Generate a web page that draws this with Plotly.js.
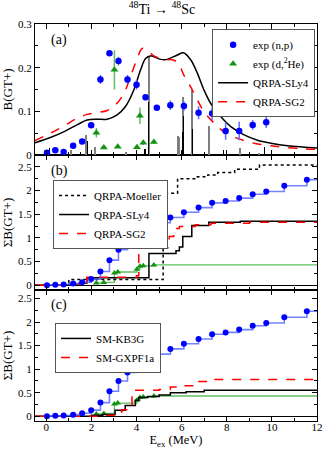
<!DOCTYPE html>
<html>
<head>
<meta charset="utf-8">
<script src="https://cdn.plot.ly/plotly-3.0.1.min.js"></script>
<style>html,body{margin:0;padding:0;background:#fff;}#chart{width:324px;height:449px;}</style>
</head>
<body>
<div id="chart"></div>
<script>
// ---------- DATA ----------
// (n,p) experiment: bin energies (MeV), B(GT+) per bin, errors, cumulative sum
const npE   = [0.03, 0.4, 0.77, 1.19, 1.59, 1.99, 2.4, 2.8, 3.2, 3.6, 4.0, 4.4, 4.9, 5.5, 6.1, 6.75, 7.35, 7.95, 8.55, 9.15, 9.75, 10.55, 11.55];
const npB   = [0.005, 0.011, 0.007, 0.021, 0.031, 0.068, 0.173, 0.233, 0.215, 0.173, 0.161, 0.132, 0.108, 0.114, 0.112, 0.097, 0.095, 0.055, 0.055, 0.069, 0.075, 0.124, 0.136];
const npErr = [0.003, 0.003, 0.003, 0.004, 0.004, 0.004, 0.010, 0.004, 0.010, 0.010, 0.011, 0.007, 0.005, 0.011, 0.011, 0.015, 0.015, 0.020, 0.021, 0.011, 0.013, 0.017, 0.025];
const npCum = [0.0, 0.01, 0.015, 0.035, 0.065, 0.13, 0.29, 0.53, 0.75, 0.93, 1.08, 1.21, 1.32, 1.43, 1.54, 1.64, 1.74, 1.78, 1.84, 1.92, 1.98, 2.10, 2.23];
// (d,2He) experiment
const dhE   = [2.22, 2.55, 3.02, 3.17, 4.02, 4.15, 4.3, 4.77];
const dhB   = [0.051, 0.017, 0.195, 0.019, 0.018, 0.090, 0.028, 0.030];
const dhErr = [0.011, 0.003, 0.045, 0.003, 0.003, 0.019, 0.005, 0.005];
const dhCum = [0.05, 0.06, 0.26, 0.28, 0.34, 0.40, 0.41, 0.43];
const xEnd = 12;
// QRPA folded strength (panel a)
const sly4E = [-0.5, 0.18, 0.77, 1.36, 1.81, 2.25, 2.7, 3.14, 3.51, 3.88, 4.18, 4.4, 4.62, 5.07, 5.36, 5.81, 6.08, 6.4, 6.7, 6.99, 7.29, 7.73, 8.18, 8.77, 9.36, 9.96, 10.7, 11.44, 12.0];
const sly4B = [0.028, 0.040, 0.053, 0.069, 0.080, 0.082, 0.082, 0.092, 0.111, 0.149, 0.195, 0.221, 0.227, 0.219, 0.219, 0.229, 0.234, 0.218, 0.187, 0.149, 0.118, 0.088, 0.065, 0.046, 0.034, 0.027, 0.021, 0.018, 0.016];
const sg2E  = [-0.5, 0.18, 0.77, 1.36, 1.81, 2.25, 2.7, 3.07, 3.44, 3.73, 4.03, 4.25, 4.47, 4.77, 5.21, 5.66, 5.9, 6.1, 6.4, 6.7, 6.99, 7.44, 7.88, 8.48, 9.21, 9.96, 10.7, 11.44, 12.0];
const sg2B  = [0.033, 0.050, 0.066, 0.084, 0.093, 0.097, 0.102, 0.115, 0.141, 0.179, 0.221, 0.244, 0.240, 0.227, 0.219, 0.217, 0.205, 0.183, 0.156, 0.126, 0.099, 0.073, 0.053, 0.038, 0.027, 0.021, 0.017, 0.014, 0.013];
// discrete QRPA states (sticks)
const blackStickE = [0.15, 1.51, 1.83, 4.37, 4.52, 6.03, 6.09, 6.48, 7.85, 9.66];
const blackStickB = [0.015, 0.008, 0.031, 0.014, 0.122, 0.053, 0.090, 0.059, 0.011, 0.018];
const grayStickE  = [0.77, 1.11, 1.76, 2.18, 3.54, 4.57, 5.84, 5.9, 6.06, 6.45, 7.2, 8.6, 9.44];
const grayStickB  = [0.011, 0.011, 0.046, 0.018, 0.008, 0.225, 0.043, 0.041, 0.133, 0.148, 0.066, 0.015, 0.005];
// cumulative QRPA (panel b)
const moeE = [-0.5, 1.0, 5.18, 5.82, 6.7, 7.16, 7.6, 8.35, 9.45, 12];
const moeS = [0, 0.12, 1.94, 2.25, 2.29, 2.33, 2.38, 2.45, 2.54, 2.54];
const slyCE = [-0.5, 1.0, 1.45, 1.8, 4.55, 5.75, 5.9, 6.05, 6.45, 7.2, 8.6, 12];
const slyCS = [0, 0.02, 0.05, 0.16, 0.67, 0.73, 0.81, 1.03, 1.26, 1.33, 1.35, 1.36];
const sg2CE = [-0.5, 1.0, 1.45, 1.8, 4.0, 4.1, 5.45, 5.65, 5.9, 6.6, 7.3, 9.0, 12];
const sg2CS = [0, 0.02, 0.05, 0.17, 0.2, 0.79, 1.03, 1.2, 1.24, 1.28, 1.31, 1.33, 1.34];
// cumulative shell model (panel c)
const kbE = [-0.5, 2.0, 2.5, 3.05, 3.5, 3.95, 4.1, 4.5, 5.0, 5.5, 6.2, 7.0, 12];
const kbS = [0, 0.02, 0.04, 0.13, 0.23, 0.34, 0.40, 0.42, 0.45, 0.50, 0.52, 0.55, 0.55];
const gxE = [-0.5, 2.5, 3.0, 3.35, 3.8, 5.0, 5.5, 6.1, 6.6, 7.3, 12];
const gxS = [0, 0.02, 0.09, 0.14, 0.55, 0.57, 0.62, 0.65, 0.74, 0.78, 0.78];

// ---------- STYLE ----------
const FONT = "Liberation Serif, Times New Roman, serif";
const BLUE = "#0000ff", BLUE_L = "rgba(70,90,255,0.75)", GREEN = "#149414", GREEN_L = "#5fbf5f", RED = "#ff0000";

const A = {xaxis: "x3", yaxis: "y"}, B = {xaxis: "x2", yaxis: "y2"}, C = {xaxis: "x", yaxis: "y3"};
const withEnd = (arr, v) => arr.concat([v]);

const traces = [];
// panel a
traces.push(Object.assign({type: "bar", x: grayStickE, y: grayStickB, width: 0.09, marker: {color: "#7f7f7f", line: {width: 0}}, showlegend: false, hoverinfo: "skip"}, A));
traces.push(Object.assign({type: "bar", x: blackStickE, y: blackStickB, width: 0.06, marker: {color: "#000", line: {width: 0}}, showlegend: false, hoverinfo: "skip"}, A));
traces.push(Object.assign({type: "scatter", mode: "lines", x: sly4E, y: sly4B, line: {color: "#000", width: 1.5, shape: "spline"}, name: "QRPA-SLy4", legend: "legend", legendrank: 3}, A));
traces.push(Object.assign({type: "scatter", mode: "lines", x: sg2E, y: sg2B, line: {color: RED, width: 1.5, dash: "dash", shape: "spline"}, name: "QRPA-SG2", legend: "legend", legendrank: 4}, A));
traces.push(Object.assign({type: "scatter", mode: "markers", x: npE, y: npB, error_y: {type: "data", array: npErr, color: "#5a6cff", thickness: 1.5, width: 0}, marker: {color: BLUE, size: 6.5}, name: "exp (n,p)", legend: "legend", legendrank: 1}, A));
traces.push(Object.assign({type: "scatter", mode: "markers", x: dhE, y: dhB, error_y: {type: "data", array: dhErr, color: GREEN_L, thickness: 1.5, width: 0}, marker: {color: GREEN, size: 7, symbol: "triangle-up"}, name: "exp (d,<sup>2</sup>He)", legend: "legend", legendrank: 2}, A));

// cumulative experimental curves for panels b and c
[B, C].forEach(P => {
  traces.push(Object.assign({type: "scatter", mode: "lines", x: withEnd(dhE, xEnd), y: withEnd(dhCum, dhCum[dhCum.length - 1]), line: {color: GREEN_L, width: 1.3, shape: "hv"}, showlegend: false, hoverinfo: "skip"}, P));
  traces.push(Object.assign({type: "scatter", mode: "markers", x: dhE, y: dhCum, marker: {color: GREEN, size: 6, symbol: "triangle-up"}, showlegend: false}, P));
});
// panel b theory
traces.push(Object.assign({type: "scatter", mode: "lines", x: moeE, y: moeS, line: {color: "#000", width: 1.5, dash: "dot", shape: "hv"}, name: "QRPA-Moeller", legend: "legend2"}, B));
traces.push(Object.assign({type: "scatter", mode: "lines", x: slyCE, y: slyCS, line: {color: "#000", width: 1.5, shape: "hv"}, name: "QRPA-SLy4", legend: "legend2"}, B));
traces.push(Object.assign({type: "scatter", mode: "lines", x: sg2CE, y: sg2CS, line: {color: RED, width: 1.5, dash: "dash", shape: "hv"}, name: "QRPA-SG2", legend: "legend2"}, B));
// panel c theory
traces.push(Object.assign({type: "scatter", mode: "lines", x: kbE, y: kbS, line: {color: "#000", width: 1.5, shape: "hv"}, name: "SM-KB3G", legend: "legend3"}, C));
traces.push(Object.assign({type: "scatter", mode: "lines", x: gxE, y: gxS, line: {color: RED, width: 1.5, dash: "dash", shape: "hv"}, name: "SM-GXPF1a", legend: "legend3"}, C));
// blue cumulative on top
[B, C].forEach(P => {
  traces.push(Object.assign({type: "scatter", mode: "lines", x: withEnd(npE, xEnd), y: withEnd(npCum, npCum[npCum.length - 1]), line: {color: BLUE_L, width: 1.6, shape: "hv"}, showlegend: false, hoverinfo: "skip"}, P));
  traces.push(Object.assign({type: "scatter", mode: "markers", x: npE, y: npCum, marker: {color: BLUE, size: 6}, showlegend: false}, P));
});

const tickFont = {family: FONT, size: 11, color: "#000"};
const xBase = {range: [-0.5, 12], dtick: 2, tick0: 0, ticks: "inside", ticklen: 5, tickwidth: 1, tickcolor: "#000",
  minor: {ticks: "inside", ticklen: 3, dtick: 1, tickcolor: "#000"},
  showline: true, linecolor: "#000", linewidth: 1, mirror: "ticks", showgrid: false, zeroline: false, tickfont: tickFont, fixedrange: true};
const yBase = {ticks: "inside", ticklen: 5, tickwidth: 1, tickcolor: "#000", showline: true, linecolor: "#000", linewidth: 1, mirror: "ticks",
  showgrid: false, tickfont: tickFont, fixedrange: true, zeroline: true, zerolinecolor: "#000", zerolinewidth: 1};
const titleFont = {family: FONT, size: 13, color: "#000"};
const legBase = {font: {family: FONT, size: 11, color: "#000"}, bgcolor: "#fff", bordercolor: "#555", borderwidth: 1, xanchor: "left", yanchor: "top", itemwidth: 30, tracegroupgap: 0, traceorder: "normal"};

const layout = {
  width: 324, height: 449, paper_bgcolor: "#fff", plot_bgcolor: "#fff",
  margin: {l: 35, r: 7, t: 24, b: 28},
  font: {family: FONT, color: "#000"},
  barmode: "overlay", bargap: 0,
  title: {text: "<sup>48</sup>Ti \u2192 <sup>48</sup>Sc", font: {family: FONT, size: 14, color: "#000"}, x: 0.5, xanchor: "center", y: 0.99, yanchor: "top"},
  xaxis: Object.assign({}, xBase, {anchor: "y3", ticklabelstandoff: -4, title: {text: "E<sub>ex</sub> (MeV)", font: {family: FONT, size: 12.5, color: "#000"}, standoff: 4}}),
  xaxis2: Object.assign({}, xBase, {anchor: "y2", matches: "x", showticklabels: false}),
  xaxis3: Object.assign({}, xBase, {anchor: "y", matches: "x", showticklabels: false}),
  yaxis: Object.assign({}, yBase, {domain: [0.670, 1], range: [0, 0.3], dtick: 0.1, tick0: 0, minor: {ticks: "inside", ticklen: 3, dtick: 0.05, tickcolor: "#000"}, zeroline: false,
    title: {text: "B(GT+)", font: titleFont, standoff: 2}}),
  yaxis2: Object.assign({}, yBase, {domain: [0.330, 0.670], range: [-0.1, 2.75], dtick: 0.5, tick0: 0, minor: {ticks: "inside", ticklen: 3, dtick: 0.25, tickcolor: "#000"},
    title: {text: "\u03A3B(GT+)", font: titleFont, standoff: 2}}),
  yaxis3: Object.assign({}, yBase, {domain: [0, 0.330], range: [-0.1, 2.68], dtick: 0.5, tick0: 0, minor: {ticks: "inside", ticklen: 3, dtick: 0.25, tickcolor: "#000"},
    title: {text: "\u03A3B(GT+)", font: titleFont, standoff: 2}}),
  legend: Object.assign({}, legBase, {x: 0.628, y: 0.987}),
  legend2: Object.assign({}, legBase, {x: 0.064, y: 0.607}),
  legend3: Object.assign({}, legBase, {x: 0.071, y: 0.247}),
  annotations: [
    {text: "(a)", xref: "paper", yref: "paper", x: 0.05, y: 0.985, xanchor: "left", yanchor: "top", showarrow: false, font: {family: FONT, size: 14, color: "#000"}},
    {text: "(b)", xref: "paper", yref: "paper", x: 0.05, y: 0.655, xanchor: "left", yanchor: "top", showarrow: false, font: {family: FONT, size: 14, color: "#000"}},
    {text: "(c)", xref: "paper", yref: "paper", x: 0.05, y: 0.318, xanchor: "left", yanchor: "top", showarrow: false, font: {family: FONT, size: 14, color: "#000"}}
  ],
  showlegend: true
};

Plotly.newPlot("chart", traces, layout, {displayModeBar: false, staticPlot: true});
</script>
</body>
</html>
